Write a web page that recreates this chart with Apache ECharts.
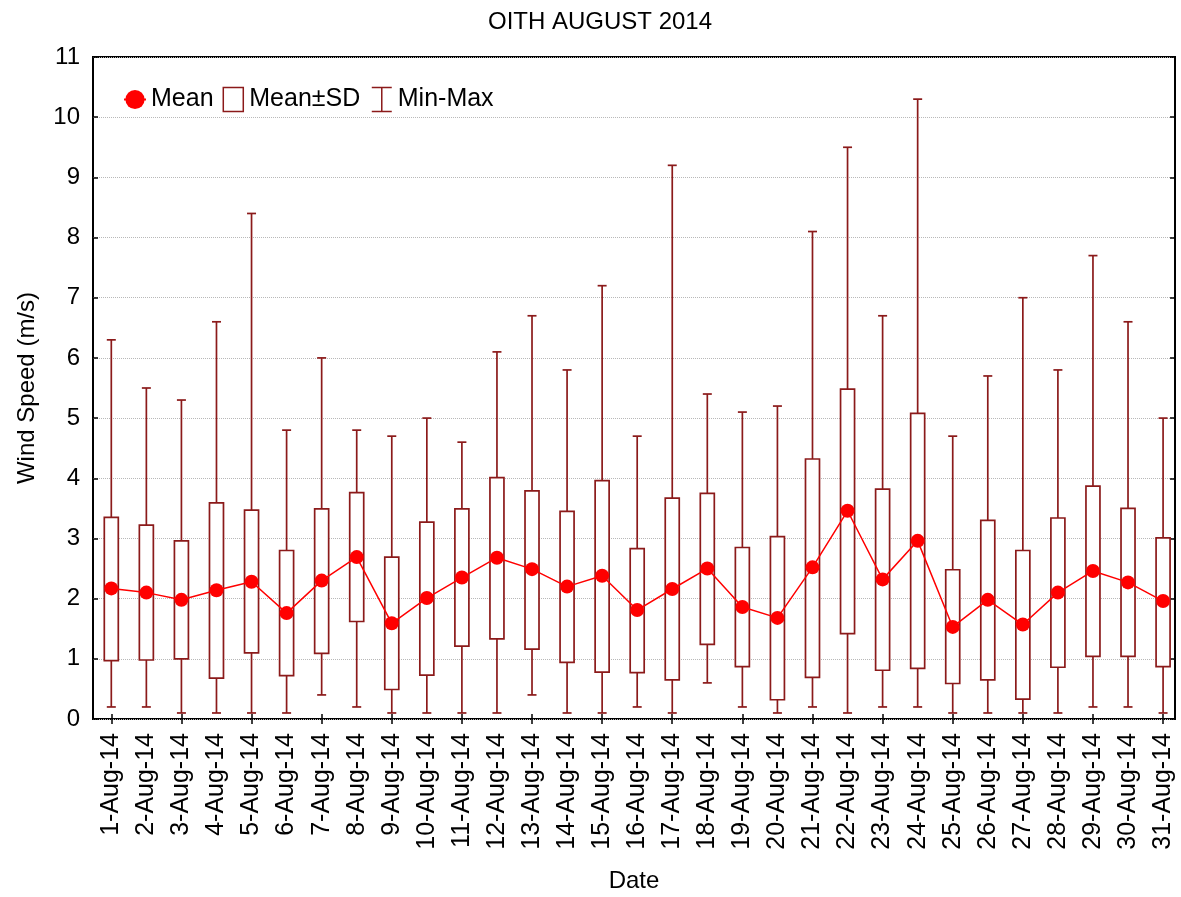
<!DOCTYPE html>
<html>
<head>
<meta charset="utf-8">
<script src="https://cdn.jsdelivr.net/npm/echarts@6/dist/echarts.min.js"></script>
<style>
  html, body { margin: 0; padding: 0; background: #fff; }
  #chart { width: 1181px; height: 897px; }
</style>
</head>
<body>
<div id="chart"></div>
<script>
const dates = ['1-Aug-14', '2-Aug-14', '3-Aug-14', '4-Aug-14', '5-Aug-14', '6-Aug-14', '7-Aug-14', '8-Aug-14',
  '9-Aug-14', '10-Aug-14', '11-Aug-14', '12-Aug-14', '13-Aug-14', '14-Aug-14', '15-Aug-14', '16-Aug-14',
  '17-Aug-14', '18-Aug-14', '19-Aug-14', '20-Aug-14', '21-Aug-14', '22-Aug-14', '23-Aug-14', '24-Aug-14',
  '25-Aug-14', '26-Aug-14', '27-Aug-14', '28-Aug-14', '29-Aug-14', '30-Aug-14', '31-Aug-14'];
const dayNo = [1, 2, 3, 4, 5, 6, 7, 8, 9, 10, 11, 12, 13, 14, 15, 16, 17, 18, 19, 20, 21, 22, 23, 24, 25, 26, 27, 28, 29, 30, 31];
const tickDays = [1, 3, 5, 7, 9, 11, 13, 15, 17, 19, 21, 23, 25, 27, 29, 31];

const means = [2.17, 2.10, 1.98, 2.14, 2.28, 1.76, 2.30, 2.69, 1.59, 2.01, 2.35, 2.68, 2.49, 2.20, 2.38, 1.81,
  2.16, 2.50, 1.86, 1.68, 2.52, 3.46, 2.32, 2.96, 1.53, 1.98, 1.57, 2.10, 2.46, 2.27, 1.96];
const sdLow = [0.97, 0.98, 1.00, 0.68, 1.10, 0.72, 1.09, 1.62, 0.49, 0.73, 1.21, 1.33, 1.16, 0.94, 0.78, 0.77,
  0.65, 1.24, 0.87, 0.32, 0.69, 1.42, 0.81, 0.84, 0.59, 0.65, 0.33, 0.86, 1.04, 1.04, 0.87];
const sdHigh = [3.35, 3.22, 2.96, 3.59, 3.47, 2.80, 3.49, 3.76, 2.69, 3.27, 3.49, 4.01, 3.79, 3.45, 3.96, 2.83,
  3.67, 3.75, 2.85, 3.03, 4.32, 5.48, 3.82, 5.08, 2.48, 3.30, 2.80, 3.34, 3.87, 3.50, 3.01];
const mins = [0.2, 0.2, 0.1, 0.1, 0.1, 0.1, 0.4, 0.2, 0.1, 0.1, 0.1, 0.1, 0.4, 0.1, 0.1, 0.2,
  0.1, 0.6, 0.2, 0.1, 0.2, 0.1, 0.2, 0.2, 0.1, 0.1, 0.1, 0.1, 0.2, 0.2, 0.1];
const maxs = [6.3, 5.5, 5.3, 6.6, 8.4, 4.8, 6.0, 4.8, 4.7, 5.0, 4.6, 6.1, 6.7, 5.8, 7.2, 4.7,
  9.2, 5.4, 5.1, 5.2, 8.1, 9.5, 6.7, 10.3, 4.7, 5.7, 7.0, 5.8, 7.7, 6.6, 5.0];

const DARK = '#8b1a1a';
const RED = '#ff0000';
const FONT = 'Liberation Sans, Arial, sans-serif';

const chart = echarts.init(document.getElementById('chart'));

function renderWhisker(params, api) {
  const x = api.value(0);
  const pMin = api.coord([x, api.value(1)]);
  const pLo = api.coord([x, api.value(2)]);
  const pHi = api.coord([x, api.value(3)]);
  const pMax = api.coord([x, api.value(4)]);
  const half = 4.5;
  const st = { stroke: DARK, lineWidth: 1.7 };
  return {
    type: 'group',
    children: [
      { type: 'line', shape: { x1: pMin[0], y1: pMin[1], x2: pLo[0], y2: pLo[1] }, style: st },
      { type: 'line', shape: { x1: pHi[0], y1: pHi[1], x2: pMax[0], y2: pMax[1] }, style: st },
      { type: 'line', shape: { x1: pMin[0] - half, y1: pMin[1], x2: pMin[0] + half, y2: pMin[1] }, style: st },
      { type: 'line', shape: { x1: pMax[0] - half, y1: pMax[1], x2: pMax[0] + half, y2: pMax[1] }, style: st }
    ]
  };
}

function renderBox(params, api) {
  const x = api.value(0);
  const lo = api.coord([x, api.value(1)]);
  const hi = api.coord([x, api.value(2)]);
  return {
    type: 'rect',
    shape: { x: lo[0] - 7, y: hi[1], width: 14, height: lo[1] - hi[1] },
    style: { fill: '#fff', stroke: DARK, lineWidth: 1.7 }
  };
}

const option = {
  backgroundColor: '#fff',
  animation: false,
  title: {
    text: 'OITH AUGUST 2014',
    left: 483,
    top: 5,
    textStyle: { fontFamily: FONT, fontSize: 24, fontWeight: 'normal', color: '#000' }
  },
  legend: {
    left: 118,
    top: 80,
    itemWidth: 22,
    itemHeight: 24,
    itemGap: 9,
    textStyle: { fontFamily: FONT, fontSize: 25, color: '#000' },
    data: [
      { name: 'Mean' },
      { name: 'Mean±SD', icon: 'path://M0,0h20v24h-20z', itemStyle: { color: '#fff', borderColor: DARK, borderWidth: 1.5 } },
      { name: 'Min-Max', icon: 'path://M0,0h20M10,0v24M0,24h20', itemStyle: { color: 'none', borderColor: DARK, borderWidth: 1.5 } }
    ]
  },
  grid: {
    show: true,
    left: 93,
    right: 6,
    top: 57,
    bottom: 178,
    outerBoundsMode: 'none',
    borderColor: '#000',
    borderWidth: 2,
    backgroundColor: 'transparent'
  },
  xAxis: [
    {
      type: 'value',
      min: 0.478,
      max: 31.34,
      name: 'Date',
      nameLocation: 'middle',
      nameGap: 150,
      nameTextStyle: { fontFamily: FONT, fontSize: 24, color: '#000' },
      axisLine: { show: false },
      splitLine: { show: false },
      axisTick: { inside: true, length: 5, customValues: tickDays, lineStyle: { color: '#000', width: 1.5 } },
      axisLabel: {
        customValues: dayNo,
        rotate: 90,
        margin: 14,
        fontFamily: FONT,
        fontSize: 25,
        color: '#000',
        formatter: v => dates[Math.round(v) - 1]
      }
    },
    {
      type: 'value',
      position: 'top',
      min: 0.478,
      max: 31.34,
      axisLine: { show: false },
      splitLine: { show: false },
      axisTick: { inside: true, length: 5, customValues: tickDays, lineStyle: { color: '#000', width: 1.5 } },
      axisLabel: { show: false }
    }
  ],
  yAxis: [
    {
      type: 'value',
      min: 0,
      max: 11,
      interval: 1,
      name: 'Wind Speed (m/s)',
      nameLocation: 'middle',
      nameGap: 54,
      nameTextStyle: { fontFamily: FONT, fontSize: 24, color: '#000' },
      axisLine: { show: false },
      axisTick: { inside: true, length: 5, lineStyle: { color: '#000', width: 1.5 } },
      axisLabel: { margin: 13, fontFamily: FONT, fontSize: 24, color: '#000' },
      splitLine: { show: true, lineStyle: { color: '#b8b8b8', type: 'dotted', width: 1 } }
    },
    {
      type: 'value',
      position: 'right',
      min: 0,
      max: 11,
      interval: 1,
      axisLine: { show: false },
      axisTick: { inside: true, length: 5, lineStyle: { color: '#000', width: 1.5 } },
      axisLabel: { show: false },
      splitLine: { show: false }
    }
  ],
  series: [
    {
      name: 'Min-Max',
      type: 'custom',
      renderItem: renderWhisker,
      itemStyle: { color: DARK },
      encode: { x: 0, y: [1, 2, 3, 4] },
      data: dayNo.map((d, i) => [d, mins[i], sdLow[i], sdHigh[i], maxs[i]]),
      z: 2
    },
    {
      name: 'Mean±SD',
      type: 'custom',
      renderItem: renderBox,
      itemStyle: { color: DARK },
      encode: { x: 0, y: [1, 2] },
      data: dayNo.map((d, i) => [d, sdLow[i], sdHigh[i]]),
      z: 3
    },
    {
      name: 'Mean',
      type: 'line',
      data: dayNo.map((d, i) => [d, means[i]]),
      symbol: 'circle',
      symbolSize: 14,
      itemStyle: { color: RED },
      lineStyle: { color: RED, width: 1.5 },
      z: 5
    }
  ]
};

chart.setOption(option);
</script>
</body>
</html>
